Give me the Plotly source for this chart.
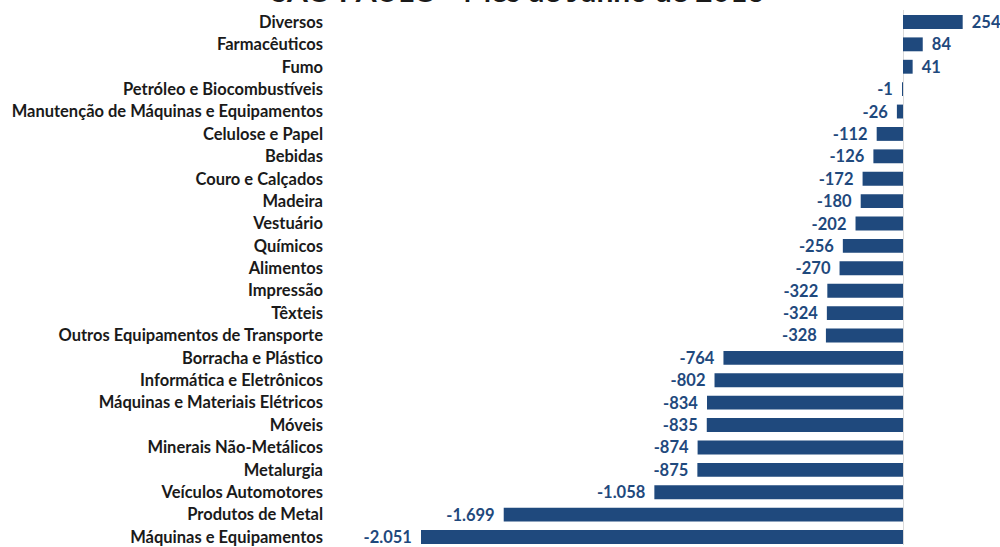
import plotly.graph_objects as go

categories = [
    "Diversos", "Farmacêuticos", "Fumo", "Petróleo e Biocombustíveis",
    "Manutenção de Máquinas e Equipamentos", "Celulose e Papel", "Bebidas",
    "Couro e Calçados", "Madeira", "Vestuário", "Químicos", "Alimentos",
    "Impressão", "Têxteis", "Outros Equipamentos de Transporte",
    "Borracha e Plástico", "Informática e Eletrônicos",
    "Máquinas e Materiais Elétricos", "Móveis", "Minerais Não-Metálicos",
    "Metalurgia", "Veículos Automotores", "Produtos de Metal",
    "Máquinas e Equipamentos",
]
values = [254, 84, 41, -1, -26, -112, -126, -172, -180, -202, -256, -270,
          -322, -324, -328, -764, -802, -834, -835, -874, -875, -1058,
          -1699, -2051]
title_text = "SÃO PAULO - Mês de Junho de 2016"


def fmt(v):
    s = f"{abs(v):,}".replace(",", ".")
    if v < 0:
        return "-" + s + "\u00a0\u2009"
    return "\u00a0\u2009" + s


labels = [fmt(v) for v in values]
idx = list(range(len(categories)))

FONT = "Lato"
BAR = "#1F497D"

fig = go.Figure(go.Bar(
    x=values, y=idx, orientation="h",
    marker=dict(color=BAR, line=dict(width=0)),
    text=labels, textposition="outside", cliponaxis=False,
    constraintext="none",
    textfont=dict(family=FONT, size=16.5, color="#1F497D", weight="bold"),
    width=0.62,
))

W, H = 1000, 547
L, R, T, B = 330, 0, 10, 0
ppu = (903 - 421) / 2051.0
x0 = (L - 903) / ppu
x1 = (W - R - 903) / ppu
plot_h = H - T - B
row = (539 - 22) / 23.0
r0 = -(22 - T) / row
r1 = r0 + plot_h / row

fig.update_layout(
    width=W, height=H,
    margin=dict(l=L, r=R, t=T, b=B, pad=0),
    paper_bgcolor="white", plot_bgcolor="white",
    showlegend=False,
    xaxis=dict(range=[x0, x1], showgrid=False, showticklabels=False,
               zeroline=True, zerolinecolor="#d9d9d9", zerolinewidth=1,
               showline=False, fixedrange=True),
    yaxis=dict(range=[r1, r0], tickmode="array", tickvals=idx,
               ticktext=categories, showgrid=False, zeroline=False,
               ticks="", ticklabelstandoff=6, ticklabeloverflow="allow",
               tickfont=dict(family=FONT, size=16.5, color="#1a1a1a", weight="bold")),
    annotations=[dict(
        text=title_text, xref="paper", yref="paper",
        x=(518 - L) / (W - L - R), y=1.0, xanchor="center", yanchor="bottom",
        showarrow=False,
        font=dict(family=FONT, size=30, color="#1a1a1a", weight="bold"),
    )],
)

fig.write_html("out.html")
